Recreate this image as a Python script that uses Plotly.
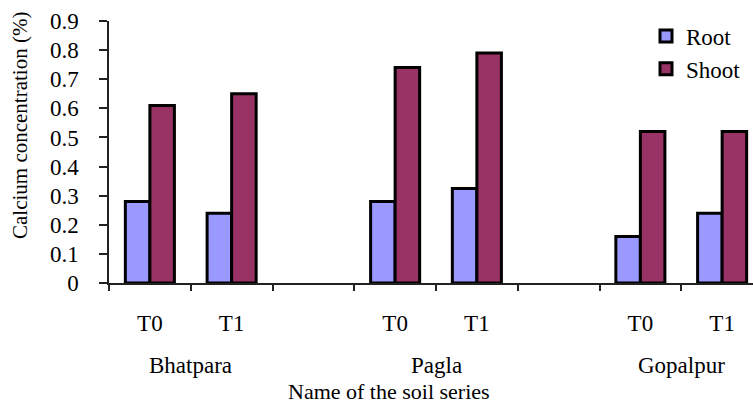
import plotly.graph_objects as go

# Soil series and treatments
soil_series = ["Bhatpara", "Pagla", "Gopalpur"]
treatments = ["T0", "T1"]

# Calcium concentration (%) per series/treatment, in order
root_values = [0.28, 0.24, 0.28, 0.325, 0.16, 0.24]
shoot_values = [0.61, 0.65, 0.74, 0.79, 0.52, 0.52]

y_ticks = [0, 0.1, 0.2, 0.3, 0.4, 0.5, 0.6, 0.7, 0.8, 0.9]

FONT = "Liberation Serif"

# Build category slots with an empty spacer slot between soil series
cats, tick_text, root_y, shoot_y, group_pos = [], [], [], [], []
k = 0
for i, s in enumerate(soil_series):
    group_pos.append(len(cats) + (len(treatments) - 1) / 2)
    for t in treatments:
        cats.append(f"{s}|{t}")
        tick_text.append(t)
        root_y.append(root_values[k])
        shoot_y.append(shoot_values[k])
        k += 1
    if i < len(soil_series) - 1:
        cats.append("gap" + str(i))
        tick_text.append("")
        root_y.append(None)
        shoot_y.append(None)

fig = go.Figure()
fig.add_bar(x=cats, y=root_y, name="Root",
            marker=dict(color="#9999FF", line=dict(color="black", width=3)))
fig.add_bar(x=cats, y=shoot_y, name="Shoot",
            marker=dict(color="#993366", line=dict(color="black", width=3)))

annotations = []
for s, p in zip(soil_series, group_pos):
    annotations.append(dict(x=p, y=0, xref="x", yref="paper", text=s,
                            showarrow=False, yanchor="top", yshift=-68,
                            font=dict(family=FONT, size=23, color="black")))
annotations.append(dict(x=(389 - 109) / 644, y=0, xref="paper", yref="paper",
                        text="Name of the soil series", showarrow=False,
                        yanchor="top", yshift=-94,
                        font=dict(family=FONT, size=22, color="black")))
annotations.append(dict(x=0, y=(283 - 126) / 262, xref="paper", yref="paper",
                        text="Calcium concentration (%)", textangle=-90,
                        showarrow=False, xanchor="center", xshift=-89,
                        font=dict(family=FONT, size=21, color="black")))

n = len(cats)
fig.update_layout(
    width=753, height=404,
    margin=dict(l=109, r=0, t=21, b=121),
    paper_bgcolor="white", plot_bgcolor="white",
    barmode="group", bargap=0.4, bargroupgap=0,
    font=dict(family=FONT, size=22, color="black"),
    showlegend=True,
    legend=dict(x=(646 - 109) / 644, y=1.025, xanchor="left", yanchor="top",
                font=dict(family=FONT, size=23, color="black"),
                bgcolor="rgba(0,0,0,0)", itemwidth=30),
    annotations=annotations,
)
fig.update_xaxes(
    type="category", categoryorder="array", categoryarray=cats,
    tickvals=cats, ticktext=tick_text, tickson="boundaries",
    range=[-0.5, n - 0.5 - 10 / 81.75],
    showline=True, linecolor="#222222", linewidth=1.5,
    ticks="outside", ticklen=6, tickcolor="#222222", tickwidth=1.5,
    ticklabelstandoff=19, showgrid=False, zeroline=False,
    tickfont=dict(family=FONT, size=23, color="black"),
)
fig.update_yaxes(
    range=[0, 0.9], tickvals=y_ticks, ticktext=[f"{v:g}" for v in y_ticks],
    showline=True, linecolor="#222222", linewidth=1.5,
    ticks="outside", ticklen=8, tickcolor="#222222", tickwidth=1.5,
    ticklabelstandoff=16, showgrid=False, zeroline=False,
    tickfont=dict(family=FONT, size=23, color="black"),
)

fig.write_html("out.html")
